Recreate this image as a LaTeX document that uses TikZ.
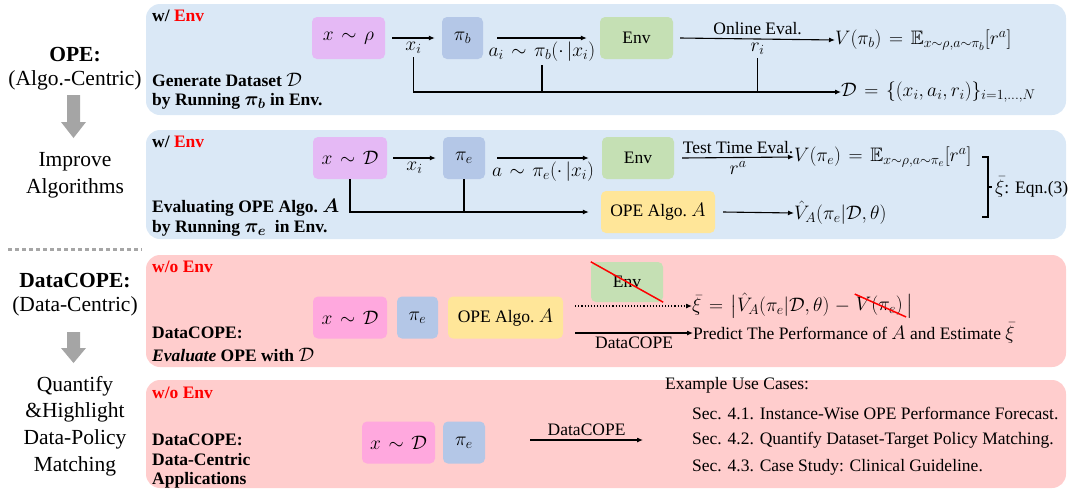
\RequirePackage{fix-cm}
\documentclass[tikz,border=0pt]{standalone}
\usepackage{amsmath,amssymb,bm}
\usepackage{fontspec}
\setmainfont{Liberation Serif}
\usepackage{xcolor}
\usetikzlibrary{arrows.meta,positioning}

\definecolor{bluebg}{RGB}{218,232,246}
\definecolor{pinkbg}{RGB}{255,205,205}
\definecolor{lavender}{RGB}{229,185,245}
\definecolor{pinkbox}{RGB}{255,168,222}
\definecolor{policy}{RGB}{180,199,231}
\definecolor{envgreen}{RGB}{197,224,180}
\definecolor{opeyellow}{RGB}{255,230,153}
\definecolor{graybar}{RGB}{165,165,165}

% math a little larger than the text, as in the figure
\DeclareMathSizes{17.5}{19.5}{14}{11}
\medmuskip=5mu plus 2mu minus 4mu
\thickmuskip=7mu plus 5mu

\begin{document}
\begin{tikzpicture}[
    x=1pt, y=-1pt,
    font=\fontsize{17.5}{20}\selectfont,
    panel/.style={rounded corners=14pt},
    box/.style={rounded corners=5pt, minimum height=42pt, inner sep=0pt},
    arr/.style={-{Latex[length=6pt,width=5pt]}, line width=1.1pt},
    ln/.style={line width=1.1pt},
    side/.style={font=\fontsize{21.5}{24}\selectfont, align=center},
    sidebold/.style={font=\fontsize{21.5}{24}\selectfont\bfseries, align=center},
    tag/.style={anchor=west, inner sep=0pt, font=\fontsize{17.5}{20}\selectfont\bfseries},
    txt/.style={anchor=west, inner sep=0pt},
]

\useasboundingbox (0,0) rectangle (1070,491);

% Panels
\fill[bluebg, panel] (146,4) rectangle (1066,115);
\fill[bluebg, panel] (146,130) rectangle (1066,239);
\fill[pinkbg, panel] (146,255) rectangle (1066,367);
\fill[pinkbg, panel] (146,380) rectangle (1066,488);

% Left column
\node[sidebold] (opehead) at (75,55) {OPE:};
\node[side] (algoc) at (75,80) {(Algo.-Centric)};
\fill[graybar] (67,95) -- (80,95) -- (80,122) -- (86,122) -- (73.5,138) -- (61,122) -- (67,122) -- cycle;
\node[side] (impr) at (75,162) {Improve};
\node[side] (algs) at (75,188) {Algorithms};
\draw[black!35, line width=3pt, dash pattern=on 4pt off 3pt] (8,249) -- (142,249);
\node[sidebold] (dchead) at (75,281) {DataCOPE:};
\node[side] (datac) at (75,306) {(Data-Centric)};
\fill[graybar] (67,332) -- (80,332) -- (80,348) -- (86,348) -- (73.5,363) -- (61,348) -- (67,348) -- cycle;
\node[side] (quan) at (75,386) {Quantify};
\node[side] (high) at (75,412) {\&Highlight};
\node[side] (dpol) at (75,439) {Data-Policy};
\node[side] (match) at (75,466) {Matching};

% Panel 1: w/ Env, behaviour policy
\node[tag] (wenv1) at (152,16) {w/ \textcolor{red}{Env}};
\node[box, fill=lavender, minimum width=73pt] (xrho) at (348.5,38) {$x\sim\rho$};
\node[box, fill=policy, minimum width=41pt] (pib) at (462.5,38) {$\pi_b$};
\node[box, fill=envgreen, minimum width=73pt] (envb) at (636.5,38) {Env};
\node[txt] (vpib) at (835,40) {$V(\pi_b)=\mathbb{E}_{x\sim\rho,a\sim\pi_b}[r^a]$};
\node[txt] (dset) at (841,92) {$\mathcal{D}=\{(x_i,a_i,r_i)\}_{i=1,\dots,N}$};
\draw[arr] ([xshift=7pt]xrho.east) -- node[below] (xib) {$x_i$} ([xshift=-7pt]pib.west);
\draw[arr] ([xshift=14pt]pib.east) -- node[below] (aib) {$a_i\sim\pi_b(\cdot\,|x_i)$} ([xshift=-13pt]envb.west);
\draw[arr] ([xshift=7pt]envb.east) -- node[above] {Online Eval.} node[below] (rib) {$r_i$} (vpib.west);
\draw[arr] (xib.south) |- (dset.west);
\draw[ln] (aib.south) -- (aib.south |- dset.west);
\draw[ln] (rib.south) -- (rib.south |- dset.west);
\node[tag] (gen1) at (152,80) {Generate Dataset $\mathcal{D}$};
\node[tag] (gen2) at (152,101) {by Running $\bm{\pi_b}$ in Env.};

% Panel 2: w/ Env, evaluation policy
\node[tag] (wenv2) at (152,142) {w/ \textcolor{red}{Env}};
\node[box, fill=lavender, minimum width=74pt] (xd) at (350,158) {$x\sim\mathcal{D}$};
\node[box, fill=policy, minimum width=42pt] (pie) at (464,158) {$\pi_e$};
\node[box, fill=envgreen, minimum width=72pt] (enve) at (638,158) {Env};
\node[box, fill=opeyellow, minimum width=114pt] (opea) at (658,212) {OPE Algo.\ $A$};
\node[txt] (vpie) at (794,157) {$V(\pi_e)=\mathbb{E}_{x\sim\rho,a\sim\pi_e}[r^a]$};
\node[txt] (vhat) at (794,213) {$\hat V_A(\pi_e|\mathcal{D},\theta)$};
\draw[arr] ([xshift=6pt]xd.east) -- node[below] {$x_i$} ([xshift=-7pt]pie.west);
\draw[arr] ([xshift=12pt]pie.east) -- node[below] {$a\sim\pi_e(\cdot\,|x_i)$} ([xshift=-13pt]enve.west);
\draw[arr] ([xshift=8pt]enve.east) -- node[above] {Test Time Eval.} node[below] {$r^a$} (vpie.west);
\draw[arr] (xd.south) |- ([xshift=-12pt]opea.west);
\draw[ln] (pie.south) -- (pie.south |- opea.west);
\draw[arr] ([xshift=8pt]opea.east) -- (vhat.west);
\draw[ln] (982,157) -- (988,157) -- (988,217) -- (982,217) (988,187) -- (992,187);
\node[txt] (xibar) at (995,187) {$\bar\xi$: Eqn.(3)};
\node[tag] (eval1) at (152,208) {Evaluating OPE Algo.\ $\bm{A}$};
\node[tag] (eval2) at (152,228) {by Running $\bm{\pi_e}$\ \ in Env.};

% Panel 3: w/o Env, DataCOPE evaluation
\node[tag, text=red] (woenv3) at (152,267) {w/o Env};
\node[box, fill=pinkbox, minimum width=74pt] (xd3) at (350,317.5) {$x\sim\mathcal{D}$};
\node[box, fill=policy, minimum width=41pt] (pie3) at (417.5,317.5) {$\pi_e$};
\node[box, fill=opeyellow, minimum width=115pt] (opea3) at (505.5,317.5) {OPE Algo.\ $A$};
\node[box, fill=envgreen, minimum width=72pt, minimum height=40pt] (envx) at (627,282) {Env};
\draw[red, line width=1.5pt] (envx.north west) -- (envx.south east);
\node[txt] (xieq) at (692,306) {$\bar\xi=\big|\hat V_A(\pi_e|\mathcal{D},\theta)-{}$};
\node[txt] (vstrike) at (xieq.east) {$V(\pi_e)$};
\node[txt] (xiend) at ([xshift=3pt]vstrike.east) {$\big|$};
\draw[red, line width=1.5pt] ([xshift=-1pt,yshift=2pt]vstrike.north west) -- ([xshift=3pt,yshift=-1pt]vstrike.south east);
\node[txt] (pred) at (693,333) {Predict The Performance of $A$ and Estimate $\bar\xi$};
\draw[arr, dotted] ([xshift=12pt]opea3.east |- xieq.west) -- (xieq.west);
\draw[arr] ([xshift=12pt]opea3.east |- pred.west) -- node[below] {DataCOPE} (pred.west);
\node[tag] (dc3a) at (152,333) {DataCOPE:};
\node[tag] (dc3b) at (152,355) {\textit{Evaluate} OPE with $\mathcal{D}$};

% Panel 4: w/o Env, applications
\node[tag, text=red] (woenv4) at (152,393) {w/o Env};
\node[tag] (dc4a) at (152,440) {DataCOPE:};
\node[tag] (dc4b) at (152,460) {Data-Centric};
\node[tag] (dc4c) at (152,480) {Applications};
\node[box, fill=pinkbox, minimum width=73pt] (xd4) at (398.5,442.5) {$x\sim\mathcal{D}$};
\node[box, fill=policy, minimum width=42pt] (pie4) at (464,442.5) {$\pi_e$};
\node[txt] (uses) at (665,385) {Example Use Cases:};
\node[txt] (sec1) at (692,413) {Sec. 4.1. Instance-Wise OPE Performance Forecast.};
\node[txt] (sec2) at (692,440) {Sec. 4.2. Quantify Dataset-Target Policy Matching.};
\node[txt] (sec3) at (692,467) {Sec. 4.3. Case Study: Clinical Guideline.};
\draw[arr] ([xshift=45pt]pie4.east |- sec2.west) -- node[above] {DataCOPE} ([xshift=-49pt]sec2.west);

\end{tikzpicture}
\end{document}
